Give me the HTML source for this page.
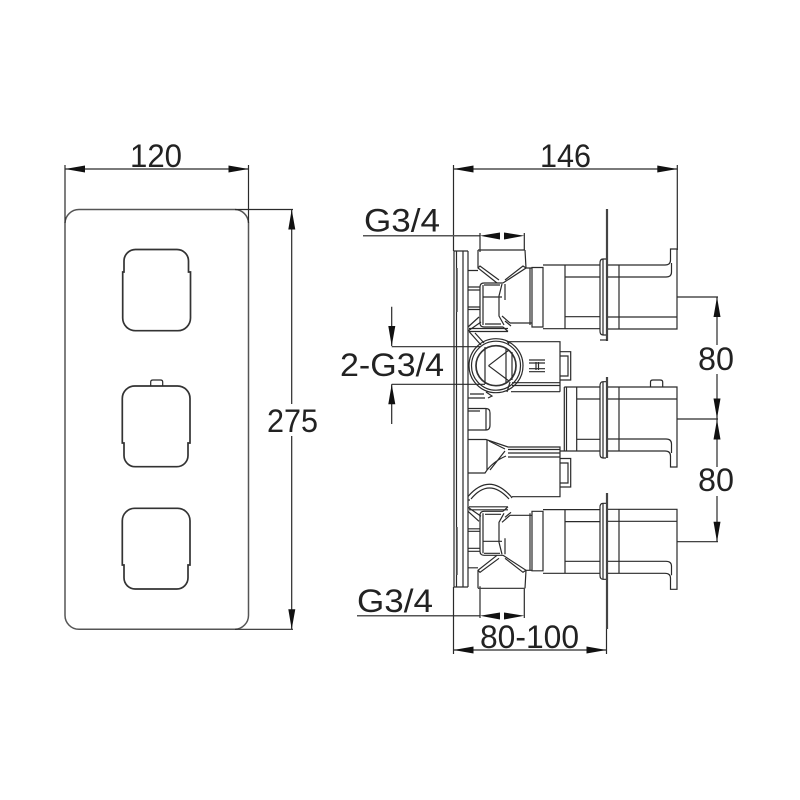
<!DOCTYPE html>
<html>
<head>
<meta charset="utf-8">
<style>
html,body{margin:0;padding:0;background:#fff;width:800px;height:800px;overflow:hidden}
svg{display:block}
text{font-family:"Liberation Sans",sans-serif;font-size:32px;fill:#222}
.l{fill:none;stroke:#2a2a2a;stroke-width:1.2}
.g{fill:none;stroke:#555;stroke-width:1.5}
.k{fill:none;stroke:#333;stroke-width:1.7}
.a{fill:#111;stroke:none}
</style>
</head>
<body>
<svg width="800" height="800" viewBox="0 0 800 800" xmlns="http://www.w3.org/2000/svg">
<rect width="800" height="800" fill="#fff"/>
<defs>
<g id="valve">
  <path class="l" d="M478 250H525M478 250V268L497 283M525 250L526 268L503 283M480 252V250M478 268L480 266L499 280M526 268L523 266L505 280"/>
  <path class="l" d="M468 270.5H478M526 268H532"/>
  <path class="l" d="M503 283H484Q480 283 480 287V323Q480 327 484 327H503M483 285V325M502 284L499 296V316L504 325M483 297H502M485 324H501M484 285H500M505 284V300M502 316L510 323"/>
  <path class="l" d="M468 287H480M468 290H480M468 307H480M468 309.5H480M468 327L479 317M468 331L481 322M469 331.5H508M469 328.5H508M503 327L508 331.5M505 321L511 326M510 323H532"/>
  <path class="l" d="M532 267.5H543V327H532ZM530 268V325"/>
  <path class="l" d="M543 265H600M543 328.7H600M565 265V328.7M565 277H600M565 316.7H600"/>
  <path class="l" d="M606 259H603Q600 259 600 263V331Q600 335 603 335H606M603 259V335"/>
</g>
<g id="handleDown">
  <path class="l" d="M608 0H677V80H670.5V69Q670.5 64 665 64H608M608 12H677M608 52H666Q671.5 52 671.5 57V66M619 0V64"/>
</g>
</defs>

<!-- LEFT VIEW -->
<path class="g" d="M65 223A14 14 0 0 1 79 209.5H235A14 14 0 0 1 248.5 223V615A14 14 0 0 1 235 629.3H79A14 14 0 0 1 65 615Z"/>
<path class="l" d="M65 165V223M248.500 165V223M65 169H248.500"/>
<path class="a" d="M65 169L85 165.500V172.500ZM248.500 169L228.500 165.500V172.500Z"/>
<text x="130" y="167" textLength="52" lengthAdjust="spacingAndGlyphs">120</text>
<path class="l" d="M235 209.500H293M235 629.300H293M291.700 209.500V404M291.700 436V629.300"/>
<path class="a" d="M291.700 209.500L288.300 229.500H295.300ZM291.700 629.300L288.300 609.300H295.300Z"/>
<text x="267" y="432" textLength="51" lengthAdjust="spacingAndGlyphs">275</text>

<!-- knob 1 -->
<path class="k" d="M122.700 272H124V261A11.5 11.5 0 0 1 135.500 249.500H177A11.5 11.500 0 0 1 188.500 261V272H190.500V318A12.700 12.700 0 0 1 177.800 330.700H135.400A12.700 12.700 0 0 1 122.700 318Z"/>
<!-- knob 2 -->
<path class="k" d="M122.300 443V398.500A12.500 12.500 0 0 1 134.800 386H177.500A12.500 12.500 0 0 1 190 398.500V443H188V455.500A11.200 11.200 0 0 1 176.800 466.700H135.200A11.200 11.200 0 0 1 124 455.500V443Z"/>
<path class="l" d="M150.700 386V382Q150.700 380 153 380H160.500Q162.700 380 162.700 382V386"/>
<!-- knob 3 -->
<path class="k" d="M122.300 565V520.800A12.500 12.500 0 0 1 134.800 508.300H177.500A12.500 12.500 0 0 1 190 520.800V565H188V577.800A11.200 11.200 0 0 1 176.800 589H135.200A11.200 11.200 0 0 1 124 577.800V565Z"/>

<!-- TOP 146 DIM -->
<path class="l" d="M453.500 165V251M677.300 165V250M453.500 169H677.300"/>
<path class="a" d="M453.500 169L473.500 165.500V172.500ZM677.300 169L657.300 165.500V172.500Z"/>
<text x="540" y="167" textLength="51" lengthAdjust="spacingAndGlyphs">146</text>

<!-- G3/4 top -->
<text x="364" y="231.700" textLength="76" lengthAdjust="spacingAndGlyphs">G3/4</text>
<path class="g" d="M363 235.700H480"/>
<path class="l" d="M480 233V250M524.300 233V250"/>
<path class="a" d="M480 235.700L500 232.500V239.500ZM524.300 235.700L504 232.500V239.500Z"/>

<!-- BACK PLATE -->
<path class="l" d="M454 251H468M454 251V587M456.500 251V587M463 251V587M468 251V587M454 587H468"/>
<path class="g" d="M457 268V312M457 527V575"/>

<!-- FRONT PLATE LINE -->
<path d="M607 209V341M607 377V458M607 493V629" stroke="#444" stroke-width="2.2" fill="none"/>
<path class="l" d="M600 340H607"/>

<!-- VALVES -->
<use href="#valve"/>
<use href="#valve" transform="translate(0,838.300) scale(1,-1)"/>

<!-- HANDLES -->
<use href="#handleDown" transform="translate(0,838.300) scale(1,-1) translate(0,509.300)"/>
<use href="#handleDown" transform="translate(0,387)"/>
<use href="#handleDown" transform="translate(0,509.300)"/>
<path class="l" d="M650.500 387V382Q650.500 380 653 380H660Q662.700 380 662.700 382V387"/>

<!-- MIDDLE VALVE collars -->
<path class="l" d="M564.300 387V451M566.500 387V451M576.700 387V451M564.300 387H600M576.700 399H600M576.700 439.300H600M560 451H600"/>
<path class="l" d="M606 381.700H603Q600 381.700 600 386V454Q600 458 603 458H606M603 382V458"/>

<!-- CENTER UPPER BODY -->
<path class="l" d="M508 341.700H560V391.700M512 382.700H560M512 385.500H560M511 391.700H560M468 398H485M470 394H484"/>
<path class="l" d="M560 351.700H570.700V380H560M560 356H568V376H560"/>
<circle class="l" cx="496" cy="365.700" r="27"/>
<circle class="l" cx="496" cy="365.700" r="24.500"/>
<circle class="k" cx="496" cy="365.700" r="20"/>
<path class="l" d="M485 347V384M488.500 365.700L509 350M488.500 365.700L509 381M506 349V383M512 352V380"/>
<path class="l" d="M469 331.500L481 345M475 333L484 343M507 341L509 344M486 392L492 396L488 398M510 382L507 392"/>
<path class="l" d="M529 360H545M529 363H545M529 371.700H545M529 368.700H545M536 362V370M538.500 362V370"/>

<!-- 2-G3/4 -->
<path class="l" d="M391.700 346.700H480M391.700 384.300H485M391.700 306.700V346M391.700 384.300V424"/>
<path class="a" d="M391.700 346L388.300 326H395.300ZM391.700 384.300L388.300 404.300H395.300Z"/>
<text x="340" y="376" textLength="104" lengthAdjust="spacingAndGlyphs">2-G3/4</text>

<!-- CENTER LOWER -->
<path class="l" d="M468 408.500H486Q490 408.500 490 413V425Q490 430 486 430H468M468 411H480M486 409V430"/>
<path class="l" d="M468 439.500H486L508 447H560V496.700H512M508 457H560M508 449.500H560M508 453H560"/>
<path class="l" d="M468 473H485Q492 462 506 456M487 440V470M489 441L505 449M490 470L505 451"/>
<path class="l" d="M560 458.500H570.700V487H560M560 463H568V483H560"/>
<path class="l" d="M468 496.500Q489 472 511 496.500L512 498M471 499Q489 477 509 499M468 500H470"/>

<!-- RIGHT DIMS -->
<path class="l" d="M677.300 297H718M677.300 419H718M677.300 541.700H718M717 297V345M717 374V467M717 496V541.700"/>
<path class="a" d="M717 297L713.500 317H720.500ZM717 418.500L713.500 398.500H720.500ZM717 419.500L713.500 439.500H720.500ZM717 541.700L713.500 521.700H720.500Z"/>
<text x="698" y="370" textLength="36" lengthAdjust="spacingAndGlyphs">80</text>
<text x="698" y="491" textLength="36" lengthAdjust="spacingAndGlyphs">80</text>

<!-- G3/4 bottom -->
<text x="357" y="612" textLength="76" lengthAdjust="spacingAndGlyphs">G3/4</text>
<path class="g" d="M357 615.700H480"/>
<path class="l" d="M480 589V618M524.300 589V618"/>
<path class="a" d="M480 615.700L500 612.500V619.500ZM524.300 615.700L504 612.500V619.500Z"/>

<!-- 80-100 -->
<path class="l" d="M453.500 587V654M606.500 629V654M453.500 650H606.500"/>
<path class="a" d="M453.500 650L473.500 646.500V653.500ZM606.500 650L586.500 646.500V653.500Z"/>
<text x="480" y="648" textLength="99" lengthAdjust="spacingAndGlyphs">80-100</text>
</svg>
</body>
</html>
